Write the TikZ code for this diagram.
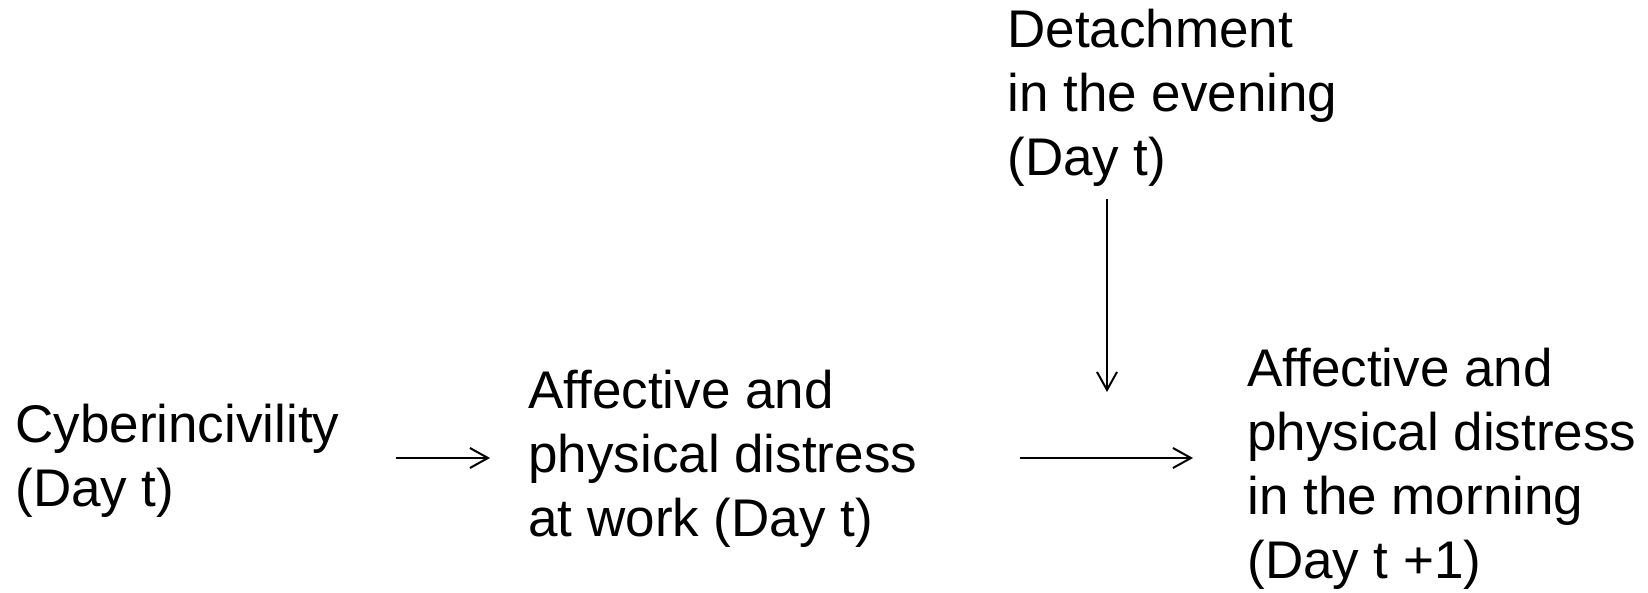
\documentclass[tikz,border=0pt]{standalone}
\usepackage{fontspec}
\setmainfont{Liberation Sans}
\usetikzlibrary{arrows.meta,positioning,calc}
\tikzstyle{var}=[align=left,inner sep=0pt,anchor=base west,font=\fontsize{26.5pt}{32pt}\selectfont]
\tikzstyle{flow}=[line width=1pt,-{Straight Barb[length=9pt,width=10pt,line width=1pt]}]

\begin{document}
\begin{tikzpicture}[x=0.5pt,y=-0.5pt]
\useasboundingbox (0,0) rectangle (1648,593);
% base of a node is its last line
\node [var] (cyber) at (15,506) {Cyberincivility\\(Day t)};
\node [var] (distwork) at (528,536) {Affective and\\physical distress\\at work (Day t)};
\node [var] (detach) at (1007,176) {Detachment\\in the evening\\(Day t)};
\node [var] (distmorn) at (1247,578) {Affective and\\physical distress\\in the morning\\(Day t +1)};
\coordinate (axis) at (0,458);
\coordinate (modtip) at (1107,392);
\draw [flow] ($(cyber.east |- axis)+(56,0)$) -- ($(distwork.west |- axis)+(-38,0)$);
\draw [flow] ($(distwork.east |- axis)+(102,0)$) -- ($(distmorn.west |- axis)+(-54,0)$);
\draw [flow] ($(modtip |- detach.south)+(0,12)$) -- (modtip);
\end{tikzpicture}
\end{document}
